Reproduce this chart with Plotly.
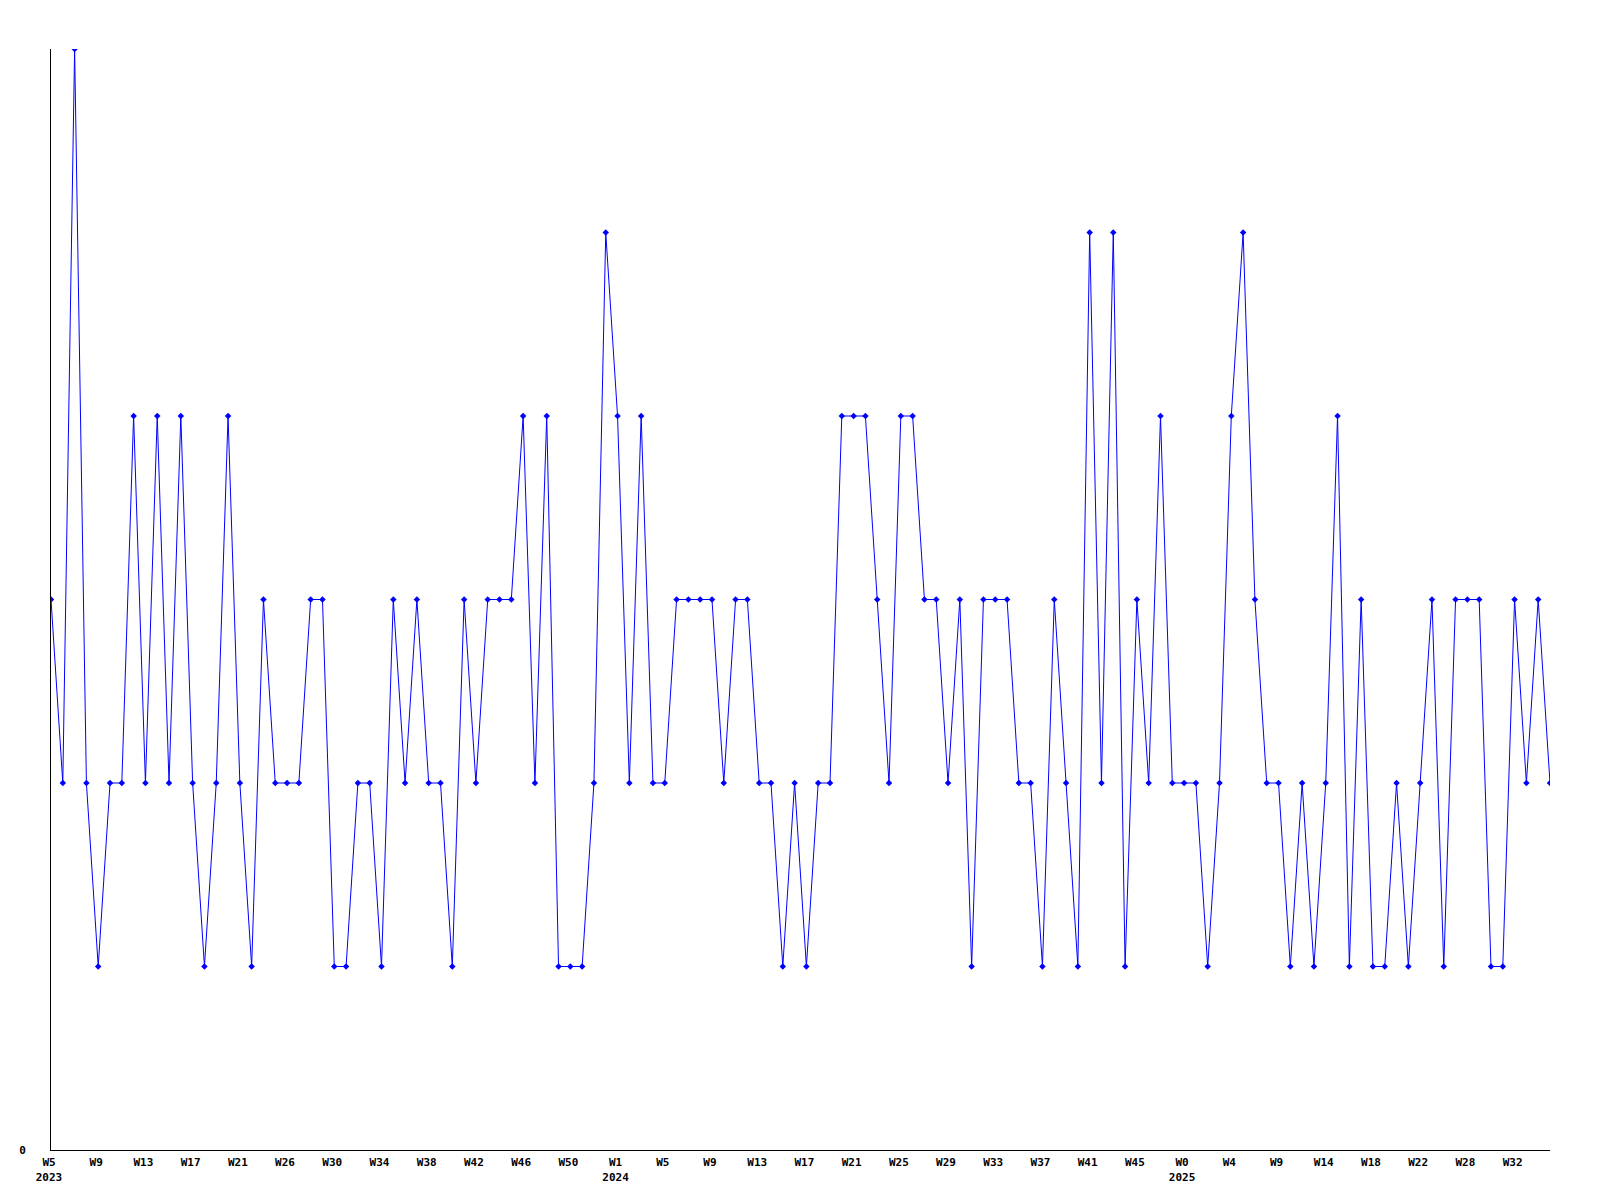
import plotly.graph_objects as go

# Weekly values (128 weeks, W5 2023 .. W35 2025)
values = [
    3, 2, 6, 2, 1, 2, 2, 4, 2, 4, 2, 4, 2, 1, 2, 4, 2, 1, 3, 2, 2, 2,
    3, 3, 1, 1, 2, 2, 1, 3, 2, 3, 2, 2, 1, 3, 2, 3, 3, 3, 4, 2, 4,
    1, 1, 1, 2, 5, 4, 2, 4, 2, 2, 3, 3, 3, 3, 2, 3, 3, 2, 2, 1, 2,
    1, 2, 2, 4, 4, 4, 3, 2, 4, 4, 3, 3, 2, 3, 1, 3, 3, 3, 2, 2, 1,
    3, 2, 1, 5, 2, 5, 1, 3, 2, 4, 2, 2, 2, 1, 2, 4, 5, 3, 2, 2, 1,
    2, 1, 2, 4, 1, 3, 1, 1, 2, 1, 2, 3, 1, 3, 3, 3, 1, 1, 3, 2, 3, 2,
]

# Tick labels shown every 4th week on the x axis
tick_labels = [
    "W5<br>2023", "W9", "W13", "W17", "W21", "W26", "W30", "W34", "W38", "W42",
    "W46", "W50", "W1<br>2024", "W5", "W9", "W13", "W17", "W21", "W25", "W29",
    "W33", "W37", "W41", "W45", "W0<br>2025", "W4", "W9", "W14", "W18", "W22",
    "W28", "W32",
]
tick_step = 4

x_index = list(range(len(values)))
tick_positions = [i * tick_step for i in range(len(tick_labels))]

fig = go.Figure()
fig.add_trace(go.Scatter(
    x=x_index,
    y=values,
    mode="lines+markers",
    line=dict(color="#0000FF", width=1),
    marker=dict(color="#0000FF", size=5, symbol="diamond"),
    showlegend=False,
    hoverinfo="x+y",
))

tick_font = dict(family="DejaVu Sans Mono", size=11, color="#000000", weight="bold")

fig.update_layout(
    width=1584,
    height=1184,
    margin=dict(l=43, r=42, t=41, b=42),
    paper_bgcolor="white",
    plot_bgcolor="white",
    xaxis=dict(
        range=[0, len(values) - 1],
        tickmode="array",
        tickvals=tick_positions,
        ticktext=tick_labels,
        tickfont=tick_font,
        showgrid=False,
        zeroline=False,
        showline=True,
        linecolor="#000000",
        linewidth=1,
        ticks="",
        ticklabelstandoff=2,
        ticklabelshift=-2,
        automargin=False,
    ),
    yaxis=dict(
        range=[0, 6],
        tickmode="array",
        tickvals=[0],
        ticktext=["0"],
        tickfont=tick_font,
        showgrid=False,
        zeroline=False,
        showline=True,
        linecolor="#000000",
        linewidth=1,
        ticks="",
        ticklabelstandoff=22,
        automargin=False,
    ),
)

fig.write_html("out.html")
